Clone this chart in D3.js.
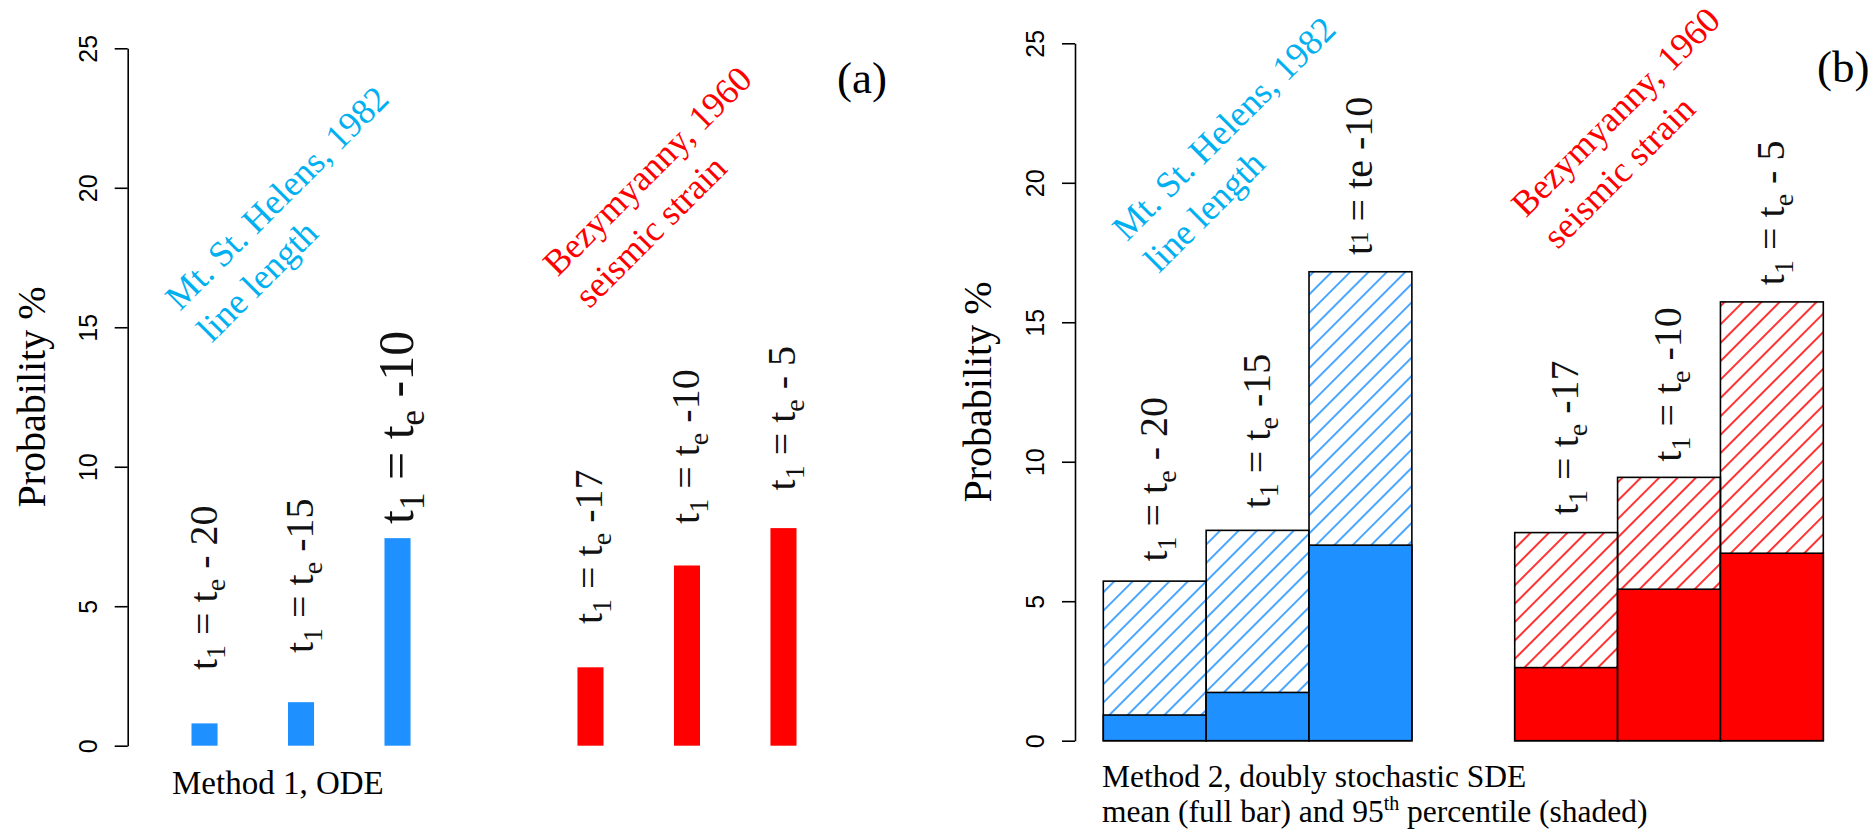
<!DOCTYPE html>
<html>
<head>
<meta charset="utf-8">
<script src="https://cdn.jsdelivr.net/npm/d3@7"></script>
<style>
  body { margin: 0; background: #fff; }
  svg { display: block; }
</style>
</head>
<body>
<div id="chart"></div>
<script>
"use strict"

// slots along x (one empty slot separates the two volcanoes)
var slots = ["b1", "b2", "b3", "gap", "r1", "r2", "r3"],
  barSlots = ["b1", "b2", "b3", "r1", "r2", "r3"],
  labelTails = [" - 20", " -15", " -10", " -17", " -10", " - 5"],
  yTicks = [0, 5, 10, 15, 20, 25];

// Method 1 (ODE) probabilities, %
var odeValues = [0.80, 1.56, 7.44, 2.81, 6.46, 7.80];
// Method 2 (SDE) mean and 95th percentile, %
var sdeMean = [0.92, 1.73, 7.01, 2.62, 5.43, 6.72],
  sde95 = [5.72, 7.54, 16.81, 7.46, 9.44, 15.73];

// where the bar labels start (data units)
var odeLabelY = [2.71, 3.32, 7.95, 4.36, 7.95, 9.15],
  sdeLabelY = [6.42, 8.33, 17.41, 8.09, 10.0, 16.33];

var volcanoLines = [["Mt. St. Helens, 1982", "line length"], ["Bezymyanny, 1960", "seismic strain"]];
// annotation anchors: [slot offset, value]
var annotA = [[-0.254, 15.56], [3.66, 16.78]],
  annotB = [[-0.27, 17.87], [3.61, 18.72]];

var blue = "#1E90FF", red = "#FF0000", skyText = "#00B0F0";
var serif = "'Liberation Serif', 'Times New Roman', serif",
  narrow = "'Liberation Sans Narrow', 'Arial Narrow', sans-serif";

var svg = d3.select("#chart").append("svg")
  .attr("width", 1875)
  .attr("height", 835)
  .style("background", "#fff");

var defs = svg.append("defs");
[["hatchBlue", blue], ["hatchRed", red]].forEach(function(h){
  var p = defs.append("pattern")
    .attr("id", h[0])
    .attr("patternUnits", "userSpaceOnUse")
    .attr("width", 13)
    .attr("height", 13)
    .attr("patternTransform", "rotate(45)");
  p.append("line")
    .attr("x1", 3).attr("y1", -2)
    .attr("x2", 3).attr("y2", 15)
    .attr("stroke", h[1])
    .attr("stroke-width", 1.6);
});

function colorOf(i){ return i < 3 ? blue : red; }

function drawAxis(g, y, axisX, titleX){
  var ax = g.append("g")
    .attr("transform", "translate(" + axisX + ",0)")
    .call(d3.axisLeft(y).tickValues(yTicks).tickSize(13).tickSizeOuter(0).tickPadding(0));
  ax.select(".domain").attr("stroke-width", 1.6);
  ax.selectAll(".tick line").attr("stroke-width", 1.6);
  ax.selectAll(".tick text")
    .attr("transform", "rotate(-90)")
    .attr("text-anchor", "middle")
    .attr("x", 0)
    .attr("y", -40)
    .attr("dy", "0.36em")
    .style("font-family", narrow)
    .style("font-size", "25px")
    .attr("fill", "#000");

  g.append("text")
    .attr("transform", "translate(" + titleX + "," + (y(0) + y(25)) / 2 + ") rotate(-90)")
    .attr("text-anchor", "middle")
    .style("font-family", serif)
    .style("font-size", "40px")
    .text("Probability %");
}

function barLabel(g, cx, yPos, tail, fs, odd){
  var t = g.append("text")
    .attr("transform", "translate(" + cx + "," + yPos + ") rotate(-90)")
    .attr("y", 0)
    .attr("dy", "0.3em")
    .style("font-family", serif)
    .style("font-size", fs + "px")
    .attr("fill", "#111");
  if (odd) {
    // this one was set without proper subscripts in the original
    t.append("tspan").text("t");
    t.append("tspan").attr("dy", -fs * 0.12).style("font-size", (fs * 0.62) + "px").text("1");
    t.append("tspan").attr("dy", fs * 0.12).text(" = te" + tail);
    return;
  }
  t.append("tspan").text("t");
  t.append("tspan").attr("dy", fs * 0.22).style("font-size", (fs * 0.7) + "px").text("1");
  t.append("tspan").attr("dy", -fs * 0.22).text(" = t");
  t.append("tspan").attr("dy", fs * 0.22).style("font-size", (fs * 0.7) + "px").text("e");
  t.append("tspan").attr("dy", -fs * 0.22).text(tail);
}

function volcanoNotes(g, slotX, y, anchors){
  anchors.forEach(function(a, i){
    var t = g.append("text")
      .attr("transform", "translate(" + slotX(a[0]) + "," + y(a[1]) + ") rotate(-45)")
      .style("font-family", serif)
      .style("font-size", "36px")
      .attr("fill", i === 0 ? skyText : red);
    volcanoLines[i].forEach(function(line, j){
      t.append("tspan")
        .attr("x", 0)
        .attr("dy", j === 0 ? 0 : "1.25em")
        .text(line);
    });
  });
}

// ---------------- panel (a): Method 1, ODE ----------------
var gA = svg.append("g");
var yA = d3.scaleLinear().domain([0, 25]).range([745.7, 48.3]);
var xA = d3.scaleBand().domain(slots).range([191.5, 796.5]).paddingInner(0.73).paddingOuter(0);
var slotXA = function(k){ return xA(slots[0]) + xA.bandwidth() / 2 + k * xA.step(); };

drawAxis(gA, yA, 127.7, 45);

gA.selectAll("rect.ode")
  .data(odeValues)
  .enter().append("rect")
  .attr("class", "ode")
  .attr("x", function(d, i){ return xA(barSlots[i]); })
  .attr("width", xA.bandwidth())
  .attr("y", function(d){ return yA(d); })
  .attr("height", function(d){ return yA(0) - yA(d); })
  .attr("fill", function(d, i){ return colorOf(i); });

barSlots.forEach(function(s, i){
  // the third label of panel (a) is set a size larger in the original
  barLabel(gA, xA(s) + xA.bandwidth() / 2, yA(odeLabelY[i]), labelTails[i], i === 2 ? 50 : 40, false);
});

volcanoNotes(gA, slotXA, yA, annotA);

gA.append("text")
  .attr("x", 172).attr("y", 794)
  .style("font-family", serif)
  .style("font-size", "33px")
  .text("Method 1, ODE");

gA.append("text")
  .attr("x", 837).attr("y", 93)
  .style("font-family", serif)
  .style("font-size", "45px")
  .text("(a)");

// ---------------- panel (b): Method 2, SDE ----------------
var gB = svg.append("g");
var yB = d3.scaleLinear().domain([0, 25]).range([740.7, 43.3]);
var xB = d3.scaleBand().domain(slots).range([1103.3, 1823.3]).padding(0);
var slotXB = function(k){ return xB(slots[0]) + xB.bandwidth() / 2 + k * xB.step(); };

drawAxis(gB, yB, 1075, 991);

gB.selectAll("rect.p95")
  .data(sde95)
  .enter().append("rect")
  .attr("class", "p95")
  .attr("x", function(d, i){ return xB(barSlots[i]); })
  .attr("width", xB.bandwidth())
  .attr("y", function(d){ return yB(d); })
  .attr("height", function(d){ return yB(0) - yB(d); })
  .attr("fill", function(d, i){ return i < 3 ? "url(#hatchBlue)" : "url(#hatchRed)"; })
  .attr("stroke", "#000")
  .attr("stroke-width", 1.6);

gB.selectAll("rect.mean")
  .data(sdeMean)
  .enter().append("rect")
  .attr("class", "mean")
  .attr("x", function(d, i){ return xB(barSlots[i]); })
  .attr("width", xB.bandwidth())
  .attr("y", function(d){ return yB(d); })
  .attr("height", function(d){ return yB(0) - yB(d); })
  .attr("fill", function(d, i){ return colorOf(i); })
  .attr("stroke", "#000")
  .attr("stroke-width", 1.6);

barSlots.forEach(function(s, i){
  barLabel(gB, xB(s) + xB.bandwidth() / 2, yB(sdeLabelY[i]), labelTails[i], 40, i === 2);
});

volcanoNotes(gB, slotXB, yB, annotB);

var cap = gB.append("text")
  .attr("x", 1102).attr("y", 787)
  .style("font-family", serif)
  .style("font-size", "31.5px");
cap.append("tspan").attr("x", 1102).text("Method 2, doubly stochastic SDE");
var l2 = cap.append("tspan").attr("x", 1102).attr("dy", 35);
l2.append("tspan").text("mean (full bar) and 95");
l2.append("tspan").attr("dy", -12).style("font-size", "20px").text("th");
cap.append("tspan").attr("dy", 12).text(" percentile (shaded)");

gB.append("text")
  .attr("x", 1817).attr("y", 82)
  .style("font-family", serif)
  .style("font-size", "45px")
  .text("(b)");
</script>
</body>
</html>
